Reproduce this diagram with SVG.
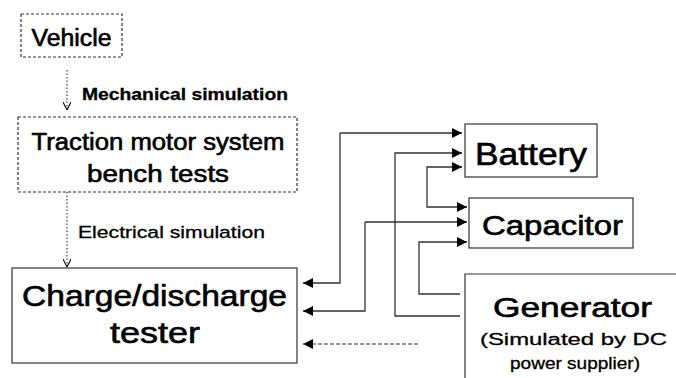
<svg xmlns="http://www.w3.org/2000/svg" width="676" height="378" viewBox="0 0 676 378">
<defs>
<style>
.box{fill:none;stroke:#333;stroke-width:1.2}
.dot{fill:none;stroke:#333;stroke-width:1.2;stroke-dasharray:3 2}
.ln{fill:none;stroke:#333;stroke-width:1.3}
.dl{fill:none;stroke:#333;stroke-width:1.1;stroke-dasharray:1.5 2}
.dsh{fill:none;stroke:#333;stroke-width:1.2;stroke-dasharray:4 2}
text{font-family:"Liberation Sans",Arial,sans-serif;fill:#000}
.hv{stroke:#000;stroke-width:0.6}
.md{stroke:#000;stroke-width:0.3}
</style>
<marker id="tri" viewBox="0 0 10 10" refX="10" refY="5" markerWidth="10" markerHeight="10" markerUnits="userSpaceOnUse" orient="auto">
<path d="M0,0 L10,5 L0,10 Z" fill="#000"/>
</marker>
<marker id="chev" viewBox="0 0 10 10" refX="10" refY="5" markerWidth="8" markerHeight="8" markerUnits="userSpaceOnUse" orient="auto">
<path d="M0,0 L10,5 L0,10" fill="none" stroke="#000" stroke-width="1.3"/>
</marker>
</defs>
<g id="vehicle">
<rect class="dot" x="21" y="14" width="101" height="43"/>
<text class="hv" x="71.5" y="46" font-size="23" text-anchor="middle" textLength="80" lengthAdjust="spacingAndGlyphs">Vehicle</text>
</g>
<g id="traction">
<rect class="dot" x="18" y="117" width="279" height="75"/>
<text class="hv" x="158" y="150" font-size="23" text-anchor="middle" textLength="253" lengthAdjust="spacingAndGlyphs">Traction motor system</text>
<text class="hv" x="158" y="182" font-size="23" text-anchor="middle" textLength="142" lengthAdjust="spacingAndGlyphs">bench tests</text>
</g>
<g id="tester">
<rect class="box" x="12" y="268" width="285" height="95"/>
<text class="hv" x="154.5" y="306" font-size="29" text-anchor="middle" textLength="265" lengthAdjust="spacingAndGlyphs">Charge/discharge</text>
<text class="hv" x="155" y="343" font-size="29" text-anchor="middle" textLength="90" lengthAdjust="spacingAndGlyphs">tester</text>
</g>
<g id="battery">
<rect class="box" x="465" y="124" width="132" height="53"/>
<text class="hv" x="531" y="165" font-size="31" text-anchor="middle" textLength="112" lengthAdjust="spacingAndGlyphs">Battery</text>
</g>
<g id="capacitor">
<rect class="box" x="469" y="198" width="164" height="50"/>
<text class="hv" x="552.5" y="235" font-size="27" text-anchor="middle" textLength="141" lengthAdjust="spacingAndGlyphs">Capacitor</text>
</g>
<g id="generator">
<path class="box" d="M676,274 H465 V378"/>
<text class="hv" x="572.5" y="317" font-size="27" text-anchor="middle" textLength="159" lengthAdjust="spacingAndGlyphs">Generator</text>
<text class="md" x="573.5" y="345" font-size="16" text-anchor="middle" textLength="187" lengthAdjust="spacingAndGlyphs">(Simulated by DC</text>
<text class="md" x="575" y="369" font-size="16" text-anchor="middle" textLength="130" lengthAdjust="spacingAndGlyphs">power supplier)</text>
</g>
<g id="labels">
<text class="md" x="82" y="100" font-size="17" font-weight="bold" textLength="206" lengthAdjust="spacingAndGlyphs">Mechanical simulation</text>
<text class="md" x="78" y="238" font-size="17" textLength="187" lengthAdjust="spacingAndGlyphs">Electrical simulation</text>
</g>
<g id="connectors">
<path class="dl" d="M67,70 V110" marker-end="url(#chev)"/>
<path class="dl" d="M67,192 V267" marker-end="url(#chev)"/>
<path class="ln" d="M340,133 V283 H303" marker-end="url(#tri)"/>
<path class="ln" d="M340,133 H462" marker-end="url(#tri)"/>
<path class="ln" d="M460,316 H395 V153 H462" marker-end="url(#tri)"/>
<path class="ln" d="M427,187 V167 H462" marker-end="url(#tri)"/>
<path class="ln" d="M427,187 V207 H467" marker-end="url(#tri)"/>
<path class="ln" d="M365,222 V311 H303" marker-end="url(#tri)"/>
<path class="ln" d="M365,222 H467" marker-end="url(#tri)"/>
<path class="ln" d="M460,294 H419 V242 H467" marker-end="url(#tri)"/>
<path class="dsh" d="M418,344 H303" marker-end="url(#tri)"/>
</g>
</svg>
